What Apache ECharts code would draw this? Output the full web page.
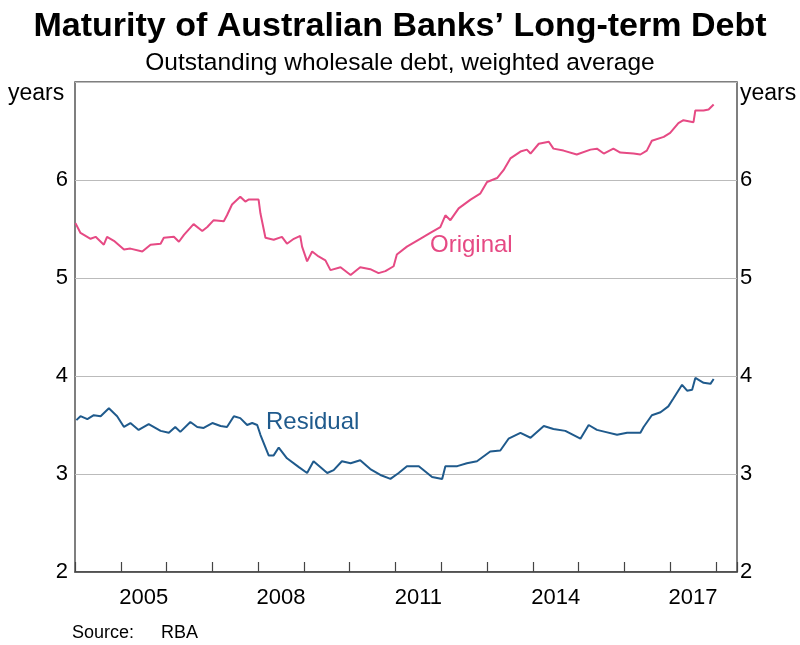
<!DOCTYPE html>
<html>
<head>
<meta charset="utf-8">
<script src="https://cdn.jsdelivr.net/npm/echarts@6/dist/echarts.min.js"></script>
<style>
  html, body { margin: 0; padding: 0; background: #fff; }
  #chart { width: 800px; height: 645px; }
</style>
</head>
<body>
<div id="chart"></div>
<script>
// decimal years
const originalYears = [2004.01, 2004.12, 2004.34, 2004.45, 2004.63, 2004.70, 2004.85, 2005.07, 2005.21, 2005.47,
  2005.65, 2005.87, 2005.94, 2006.16, 2006.27, 2006.38, 2006.59, 2006.78, 2006.89, 2007.03,
  2007.25, 2007.32, 2007.43, 2007.61, 2007.72, 2007.79, 2008.01, 2008.05, 2008.16, 2008.34,
  2008.52, 2008.63, 2008.78, 2008.92, 2008.96, 2009.07, 2009.18, 2009.32, 2009.47, 2009.58,
  2009.80, 2010.02, 2010.23, 2010.45, 2010.63, 2010.78, 2010.96, 2011.03, 2011.25, 2011.54,
  2011.76, 2011.98, 2012.09, 2012.20, 2012.38, 2012.64, 2012.85, 2013.00, 2013.22, 2013.36,
  2013.51, 2013.73, 2013.87, 2013.95, 2014.13, 2014.35, 2014.45, 2014.67, 2014.96, 2015.26,
  2015.40, 2015.55, 2015.76, 2015.91, 2016.20, 2016.35, 2016.49, 2016.60, 2016.86, 2017.00,
  2017.18, 2017.29, 2017.51, 2017.55, 2017.73, 2017.84, 2017.88, 2017.95];
const originalValues = [5.56, 5.46, 5.40, 5.42, 5.34, 5.42, 5.38, 5.29, 5.30, 5.27,
  5.34, 5.35, 5.41, 5.42, 5.37, 5.44, 5.55, 5.48, 5.52, 5.59,
  5.58, 5.64, 5.75, 5.83, 5.78, 5.80, 5.80, 5.66, 5.41, 5.39,
  5.42, 5.35, 5.40, 5.43, 5.32, 5.17, 5.27, 5.22, 5.18, 5.08,
  5.11, 5.03, 5.11, 5.09, 5.05, 5.07, 5.12, 5.24, 5.32, 5.40,
  5.46, 5.52, 5.64, 5.59, 5.71, 5.80, 5.86, 5.98, 6.02, 6.10,
  6.22, 6.29, 6.31, 6.27, 6.37, 6.39, 6.32, 6.30, 6.26, 6.31,
  6.32, 6.27, 6.32, 6.28, 6.27, 6.26, 6.30, 6.40, 6.44, 6.48,
  6.58, 6.61, 6.59, 6.71, 6.71, 6.72, 6.70, 6.77];

const residualYears = [2004.03, 2004.12, 2004.27, 2004.41, 2004.56, 2004.74, 2004.92, 2005.07, 2005.21, 2005.39,
  2005.61, 2005.87, 2006.05, 2006.19, 2006.30, 2006.52, 2006.67, 2006.81, 2007.00, 2007.18,
  2007.32, 2007.47, 2007.61, 2007.76, 2007.87, 2007.98, 2008.05, 2008.23, 2008.34, 2008.45,
  2008.63, 2008.89, 2009.07, 2009.21, 2009.51, 2009.65, 2009.83, 2010.02, 2010.23, 2010.45,
  2010.67, 2010.89, 2011.07, 2011.25, 2011.51, 2011.80, 2012.02, 2012.09, 2012.35, 2012.56,
  2012.78, 2013.07, 2013.29, 2013.47, 2013.73, 2013.95, 2014.24, 2014.45, 2014.71, 2015.04,
  2015.22, 2015.40, 2015.58, 2015.84, 2016.06, 2016.35, 2016.42, 2016.60, 2016.79, 2016.96,
  2017.07, 2017.26, 2017.37, 2017.48, 2017.55, 2017.73, 2017.88, 2017.95];
const residualValues = [3.55, 3.59, 3.56, 3.60, 3.59, 3.67, 3.59, 3.48, 3.52, 3.45,
  3.51, 3.44, 3.42, 3.48, 3.43, 3.53, 3.48, 3.47, 3.52, 3.49,
  3.48, 3.59, 3.57, 3.50, 3.52, 3.50, 3.40, 3.19, 3.19, 3.27,
  3.16, 3.07, 3.01, 3.13, 3.01, 3.04, 3.13, 3.11, 3.14, 3.05,
  2.99, 2.95, 3.01, 3.08, 3.08, 2.97, 2.95, 3.08, 3.08, 3.11,
  3.13, 3.23, 3.24, 3.36, 3.42, 3.37, 3.49, 3.46, 3.44, 3.36,
  3.50, 3.45, 3.43, 3.40, 3.42, 3.42, 3.48, 3.60, 3.63, 3.69,
  3.77, 3.91, 3.85, 3.86, 3.98, 3.93, 3.92, 3.97];

const yTicks = [2, 3, 4, 5, 6, 7];
const yearLabels = [2005, 2008, 2011, 2014, 2017];

const xMin = 2004;
const xMax = 2018.46;
const font = 'Liberation Sans, Arial, sans-serif';

const pair = (xs, ys) => xs.map((x, i) => [x, ys[i]]);

const chart = echarts.init(document.getElementById('chart'));

const option = {
  animation: false,
  backgroundColor: '#fff',
  title: [
    {
      text: 'Maturity of Australian Banks\u2019 Long-term Debt',
      left: 'center',
      top: 5,
      textStyle: { fontFamily: font, fontSize: 34, fontWeight: 'bold', color: '#000' }
    },
    {
      text: 'Outstanding wholesale debt, weighted average',
      left: 'center',
      top: 46,
      textStyle: { fontFamily: font, fontSize: 24.5, fontWeight: 'normal', color: '#000' }
    }
  ],
  grid: {
    left: 75, right: 63, top: 82, bottom: 73,
    show: true, borderColor: '#555', borderWidth: 1.5, backgroundColor: 'transparent'
  },
  xAxis: [
    {
      // year boundaries: ticks only
      type: 'value', min: xMin, max: xMax, interval: 1,
      axisLine: { show: true, onZero: false, lineStyle: { color: '#444', width: 1.5 } },
      axisTick: { show: true, inside: true, length: 10, lineStyle: { color: '#444', width: 1.2 } },
      axisLabel: { show: false },
      splitLine: { show: false }
    },
    {
      // half-year steps so the labels can sit mid-year
      type: 'value', min: xMin, max: xMax, interval: 0.5, position: 'bottom',
      axisLine: { show: false },
      axisTick: { show: false },
      splitLine: { show: false },
      axisLabel: {
        margin: 15,
        fontFamily: font, fontSize: 22, color: '#000',
        formatter: v => {
          const yr = Math.floor(v);
          return Math.abs(v - yr - 0.5) < 1e-6 && yearLabels.includes(yr) ? String(yr) : '';
        }
      }
    }
  ],
  yAxis: [
    {
      type: 'value', min: yTicks[0], max: yTicks[yTicks.length - 1], interval: 1, position: 'left',
      axisLine: { show: false }, axisTick: { show: false },
      splitLine: { show: true, lineStyle: { color: '#bbb', width: 1.2 } },
      axisLabel: {
        margin: 7, fontFamily: font, fontSize: 22, color: '#000',
        formatter: v => (v === 7 ? '' : String(v))
      }
    },
    {
      type: 'value', min: yTicks[0], max: yTicks[yTicks.length - 1], interval: 1, position: 'right',
      axisLine: { show: false }, axisTick: { show: false }, splitLine: { show: false },
      axisLabel: {
        margin: 3, fontFamily: font, fontSize: 22, color: '#000',
        formatter: v => (v === 7 ? '' : String(v))
      }
    }
  ],
  series: [
    {
      name: 'Original', type: 'line', xAxisIndex: 0, yAxisIndex: 0,
      data: pair(originalYears, originalValues),
      showSymbol: false, lineStyle: { color: '#e64a84', width: 2 }
    },
    {
      name: 'Residual', type: 'line', xAxisIndex: 0, yAxisIndex: 0,
      data: pair(residualYears, residualValues),
      showSymbol: false, lineStyle: { color: '#1f5a8c', width: 2 }
    }
  ],
  graphic: [
    { type: 'text', left: 8, top: 82, style: { text: 'years', font: '23px ' + font, fill: '#000' } },
    { type: 'text', left: 740, top: 82, style: { text: 'years', font: '23px ' + font, fill: '#000' } },
    { type: 'text', left: 430, top: 233, style: { text: 'Original', font: '24px ' + font, fill: '#e64a84' } },
    { type: 'text', left: 266, top: 410, style: { text: 'Residual', font: '24px ' + font, fill: '#1f5a8c' } },
    { type: 'text', left: 72, top: 624, style: { text: 'Source:', font: '18px ' + font, fill: '#000' } },
    { type: 'text', left: 161, top: 624, style: { text: 'RBA', font: '18px ' + font, fill: '#000' } }
  ]
};

chart.setOption(option);
</script>
</body>
</html>
